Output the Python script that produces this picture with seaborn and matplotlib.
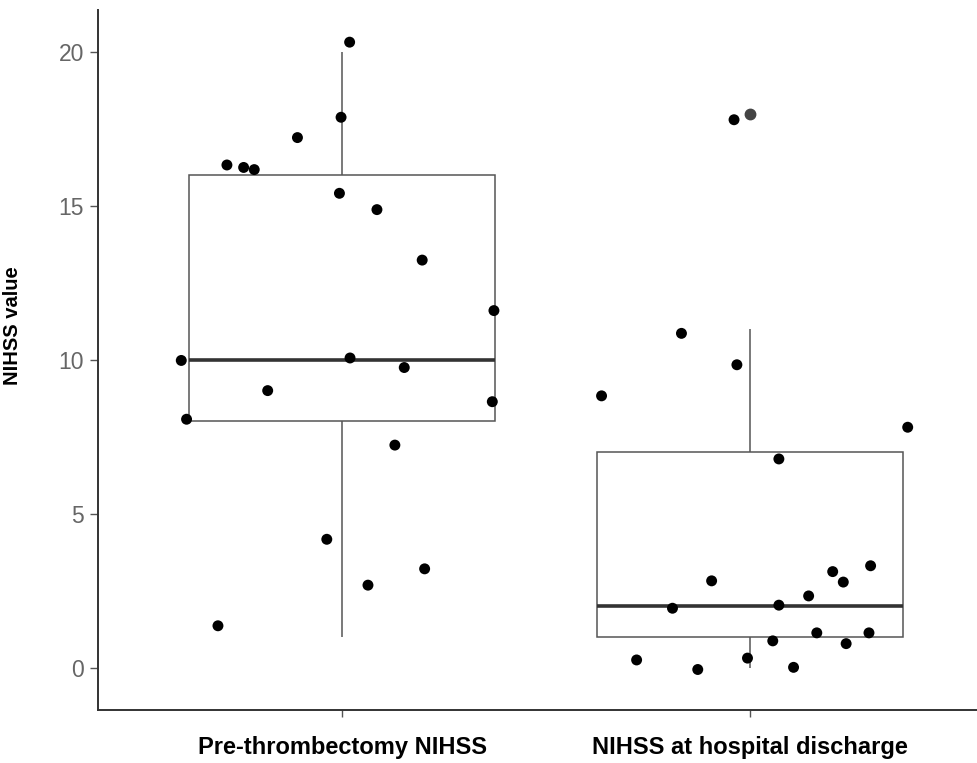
import numpy as np
import pandas as pd
import matplotlib
matplotlib.use("Agg")
import matplotlib.pyplot as plt
import seaborn as sns

# Kategorie osi X
categories = ["Pre-thrombectomy NIHSS", "NIHSS at hospital discharge"]

# Wartości NIHSS (całkowite) – z nich liczony jest boxplot
pre_scores = [10, 16, 16, 16, 17, 8, 9, 1, 4, 20, 18, 15, 15, 13, 12, 10, 10, 9, 7, 3, 3]
post_scores = [18, 11, 10, 8, 7, 3, 2, 2, 2, 3, 3, 3, 1, 1, 1, 1, 0, 0, 0, 9, 0]

# Punkty z jitterem (y) oraz przesunięcia w osi X
pre_points = [9.98, 16.33, 16.25, 16.18, 17.22, 8.07, 9.00, 1.36, 4.17, 20.32, 17.88,
              15.41, 14.88, 13.24, 11.60, 10.06, 9.75, 8.64, 7.23, 2.68, 3.21]
pre_jitter = [-0.395, -0.283, -0.242, -0.216, -0.110, -0.382, -0.183, -0.305, -0.038, 0.018, -0.003,
              -0.007, 0.085, 0.196, 0.372, 0.019, 0.152, 0.368, 0.129, 0.063, 0.202]
post_points = [17.80, 10.86, 9.84, 7.81, 6.78, 2.82, 1.93, 2.03, 2.33, 3.12, 2.78,
               3.31, 1.13, 1.13, 0.87, 0.78, 0.31, -0.06, 0.01, 8.83, 0.25]
post_jitter = [-0.039, -0.168, -0.032, 0.387, 0.071, -0.094, -0.190, 0.071, 0.144, 0.203, 0.229,
               0.296, 0.164, 0.292, 0.056, 0.236, -0.006, -0.128, 0.107, -0.364, -0.278]

y_ticks = [0, 5, 10, 15, 20]

sns.set_style("white")
plt.rcParams["font.family"] = ["Liberation Sans", "DejaVu Sans"]

box_df = pd.DataFrame({
    "group": [categories[0]] * len(pre_scores) + [categories[1]] * len(post_scores),
    "value": pre_scores + post_scores,
})
pts_df = pd.DataFrame({
    "x": [0 + j for j in pre_jitter] + [1 + j for j in post_jitter],
    "y": pre_points + post_points,
})

fig = plt.figure(figsize=(9.77, 7.63), dpi=100)
ax = fig.add_axes([0.1, 0.0695, 0.9, 0.918])

sns.boxplot(
    data=box_df, x="group", y="value", order=categories,
    width=0.75, color="white", linecolor="#555555", linewidth=1.1,
    showcaps=False, whis=1.5,
    medianprops={"color": "#333333", "linewidth": 2.6},
    flierprops={"marker": "o", "markerfacecolor": "#444444",
                "markeredgecolor": "#444444", "markersize": 7.5},
    ax=ax,
)
sns.scatterplot(data=pts_df, x="x", y="y", color="black", s=62,
                edgecolor="none", zorder=5, ax=ax)

ax.set_xlim(-0.6, 1.557)
ax.set_ylim(-1.375, 21.38)
ax.set_yticks(y_ticks)
ax.set_xticks([0, 1])
ax.set_xticklabels(categories, fontsize=17, fontweight="bold", color="black")
ax.tick_params(axis="y", labelsize=16.5, labelcolor="#666666", color="#555555",
               length=6, width=1, pad=4, left=True)
ax.tick_params(axis="x", color="#555555", length=5, width=1, pad=14, bottom=True)

ax.set_xlabel("")
ax.set_ylabel("NIHSS value", fontsize=14.5, fontweight="bold", color="black")
ax.yaxis.set_label_coords(-0.086, 0.549)

for side in ["top", "right"]:
    ax.spines[side].set_visible(False)
for side in ["left", "bottom"]:
    ax.spines[side].set_color("#333333")
    ax.spines[side].set_linewidth(1.4)

fig.savefig("out.png", dpi=100)
